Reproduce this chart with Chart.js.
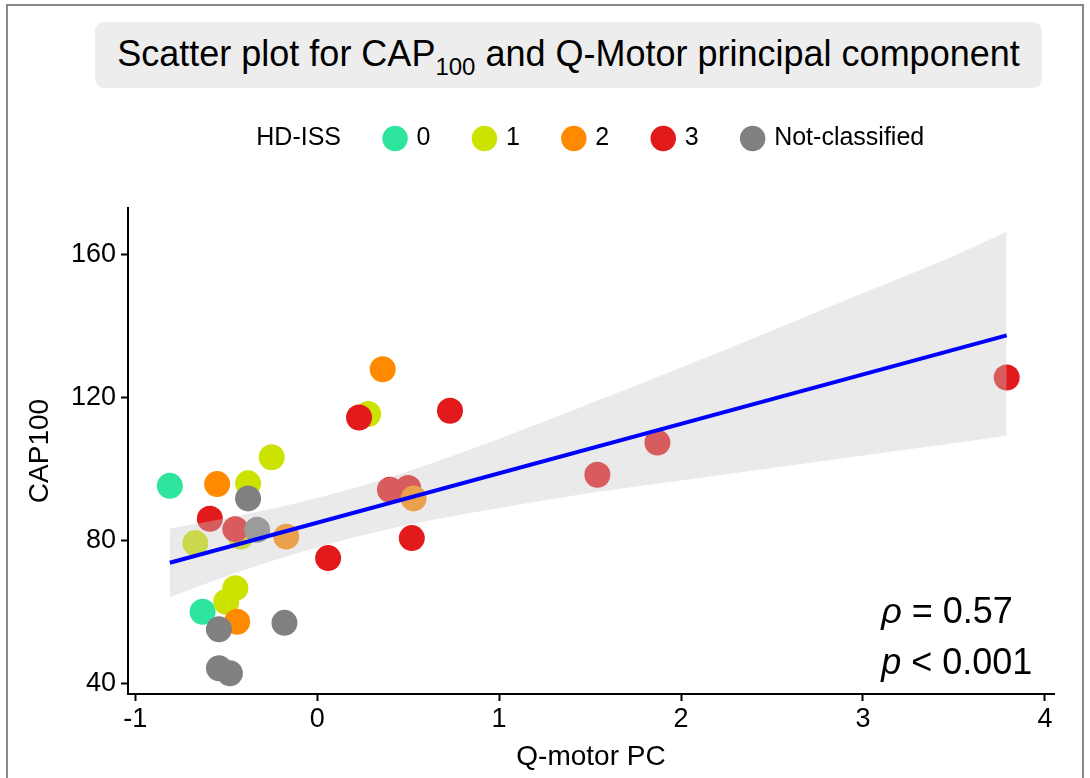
<!DOCTYPE html>
<html>
<head>
<meta charset="utf-8">
<script src="https://cdn.jsdelivr.net/npm/chart.js@4.4.1/dist/chart.umd.min.js"></script>
<style>
  html, body { margin: 0; padding: 0; background: #fff; overflow: hidden; }
  #wrap { position: relative; width: 1090px; height: 778px; }
  #frame { position: absolute; left: 6px; top: 4px; width: 1078px; height: 800px; border: 2px solid #888; box-sizing: border-box; }
  #title { position: absolute; left: 95px; top: 22px; width: 947px; height: 66px; background: #ededed; border-radius: 9px;
           font: 36px "Liberation Sans", Arial, sans-serif; color: #000; text-align: center; line-height: 64px; z-index: 2; }
  #title sub { font-size: 24px; vertical-align: -9px; line-height: 0; }
  #chartBox { position: absolute; left: 0; top: 0; width: 1090px; height: 778px; z-index: 1; }
</style>
</head>
<body>
<div id="wrap">
  <div id="frame"></div>
  <div id="title">Scatter plot for CAP<sub>100</sub> and Q-Motor principal component</div>
  <div id="chartBox"><canvas id="scatterChart"></canvas></div>
</div>
<script>
// Valeurs
const groupNames = ["0", "1", "2", "3", "Not-classified"];
const groupColors = ["#2ee59d", "#cce200", "#ff8a00", "#e31a1c", "#808080"];

const pc0 = [-0.81, -0.63];
const cap0 = [95.4, 60.2];
const pc1 = [-0.25, -0.38, -0.67, -0.42, -0.45, -0.5, 0.28];
const cap1 = [103.4, 96.1, 79.4, 81.2, 66.8, 63.0, 115.5];
const pc2 = [-0.55, 0.36, -0.17, 0.53, -0.44];
const cap2 = [95.9, 128.0, 81.2, 91.9, 57.4];
const pc3 = [-0.59, -0.45, 0.23, 0.73, 0.4, 0.5, 0.52, 0.06, 1.54, 1.87, 3.79];
const cap3 = [86.2, 83.3, 114.5, 116.4, 94.3, 94.8, 80.8, 75.2, 98.5, 107.5, 125.7];
const pcNA = [-0.38, -0.33, -0.18, -0.54, -0.54, -0.48];
const capNA = [91.9, 83.1, 57.1, 55.3, 44.4, 43.0];

// droite de régression + bande de confiance
const fitX = [-0.81, 3.79];
const fitY = [73.9, 137.5];
const bandX = [-0.81, -0.4, 0, 0.5, 1, 1.5, 2, 2.5, 3, 3.5, 3.79];
const bandUpper = [83.5, 87.4, 92.0, 99.5, 108.6, 118.4, 128.5, 138.8, 149.3, 159.7, 166.5];
const bandLower = [64.3, 71.9, 78.2, 84.5, 89.2, 93.4, 96.9, 100.4, 103.9, 107.3, 109.4];

const xTicks = [-1, 0, 1, 2, 3, 4];
const yTicks = [40, 80, 120, 160];

const statsSymbols = ["ρ", "p"];
const statsRest = [" = 0.57", " < 0.001"];
const statsX = 3.1;
const statsY = [59.8, 45.6];

Chart.defaults.font.family = '"Liberation Sans", Arial, Helvetica, sans-serif';
Chart.defaults.color = "#000";

const groupX = [pc0, pc1, pc2, pc3, pcNA];
const groupY = [cap0, cap1, cap2, cap3, capNA];
const drawOrder = [7, 6, 4, 5, 3];
const toPoints = (xs, ys) => xs.map((x, i) => ({ x: x, y: ys[i] }));

const datasets = groupNames.map((name, g) => ({
  type: "scatter",
  label: name,
  data: toPoints(groupX[g], groupY[g]),
  backgroundColor: groupColors[g],
  borderColor: groupColors[g],
  borderWidth: 0,
  pointRadius: 13,
  pointHoverRadius: 13,
  order: drawOrder[g],
}));

datasets.push({
  type: "line",
  label: "ci-upper",
  data: toPoints(bandX, bandUpper),
  fill: "+1",
  backgroundColor: "rgba(200,200,200,0.38)",
  borderColor: "rgba(0,0,0,0)",
  borderWidth: 1,
  pointRadius: 0,
  cubicInterpolationMode: "monotone",
  order: 2,
});
datasets.push({
  type: "line",
  label: "ci-lower",
  data: toPoints(bandX, bandLower),
  fill: false,
  borderColor: "rgba(0,0,0,0)",
  borderWidth: 1,
  pointRadius: 0,
  cubicInterpolationMode: "monotone",
  order: 2,
});
datasets.push({
  type: "line",
  label: "fit",
  data: toPoints(fitX, fitY),
  fill: false,
  borderColor: "#0000ff",
  borderWidth: 4,
  pointRadius: 0,
  order: 1,
});

// place la légende (hauteur + décalage horizontal)
const legendLayout = {
  id: "legendLayout",
  beforeInit(chart) {
    const origFit = chart.legend.fit;
    chart.legend.fit = function () {
      origFit.call(this);
      this.height = 127;
    };
  },
  afterLayout(chart) {
    chart.legend.left += 48;
    chart.legend.right += 48;
  },
};

// texte rho / p en bas à droite
const statsText = {
  id: "statsText",
  afterDatasetsDraw(chart) {
    const { ctx, scales } = chart;
    const left = scales.x.getPixelForValue(statsX);
    ctx.save();
    ctx.fillStyle = "#000";
    ctx.textBaseline = "middle";
    ctx.textAlign = "left";
    statsSymbols.forEach((sym, i) => {
      const y = scales.y.getPixelForValue(statsY[i]);
      ctx.font = 'italic 36px "Liberation Sans", Arial, sans-serif';
      ctx.fillText(sym, left, y);
      const w = ctx.measureText(sym).width;
      ctx.font = '36px "Liberation Sans", Arial, sans-serif';
      ctx.fillText(statsRest[i], left + w, y);
    });
    ctx.restore();
  },
};

new Chart(document.getElementById("scatterChart"), {
  type: "scatter",
  data: { datasets: datasets },
  plugins: [legendLayout, statsText],
  options: {
    responsive: true,
    maintainAspectRatio: false,
    animation: false,
    layout: { padding: { top: 81, right: 36, bottom: 0, left: 0 } },
    scales: {
      x: {
        type: "linear",
        min: -1.04,
        max: 4.05,
        afterBuildTicks: (s) => {
          s.ticks = xTicks.map((v) => ({ value: v }));
        },
        afterFit: (s) => {
          s.height = 84;
        },
        ticks: { color: "#000", font: { size: 27 }, padding: 2 },
        grid: { drawOnChartArea: false, drawTicks: true, tickLength: 7, tickWidth: 2, tickColor: "#000" },
        border: { display: true, color: "#000", width: 2 },
        title: { display: true, text: "Q-motor PC", color: "#000", font: { size: 28 }, padding: { top: 0, bottom: 4 } },
      },
      y: {
        type: "linear",
        min: 37.2,
        max: 173.1,
        afterBuildTicks: (s) => {
          s.ticks = yTicks.map((v) => ({ value: v }));
        },
        afterFit: (s) => {
          s.width = 128;
        },
        ticks: { color: "#000", font: { size: 27 }, padding: 5 },
        grid: { drawOnChartArea: false, drawTicks: true, tickLength: 7, tickWidth: 2, tickColor: "#000" },
        border: { display: true, color: "#000", width: 2 },
        title: { display: true, text: "CAP100", color: "#000", font: { size: 28 }, padding: { top: 23, bottom: 0 } },
      },
    },
    plugins: {
      filler: { drawTime: "beforeDatasetDraw" },
      tooltip: { enabled: false },
      legend: {
        position: "top",
        labels: {
          usePointStyle: true,
          pointStyle: "circle",
          boxWidth: 18,
          boxHeight: 18,
          padding: 45,
          color: "#000",
          font: { size: 25 },
          generateLabels: (chart) => {
            const items = Chart.defaults.plugins.legend.labels
              .generateLabels(chart)
              .filter((it) => it.datasetIndex < groupNames.length)
              .sort((a, b) => a.datasetIndex - b.datasetIndex);
            items.unshift({
              text: "HD-ISS",
              fillStyle: "rgba(0,0,0,0)",
              strokeStyle: "rgba(0,0,0,0)",
              lineWidth: 0,
              pointStyle: "circle",
              hidden: false,
              datasetIndex: -1,
            });
            return items;
          },
        },
      },
    },
  },
});
</script>
</body>
</html>
